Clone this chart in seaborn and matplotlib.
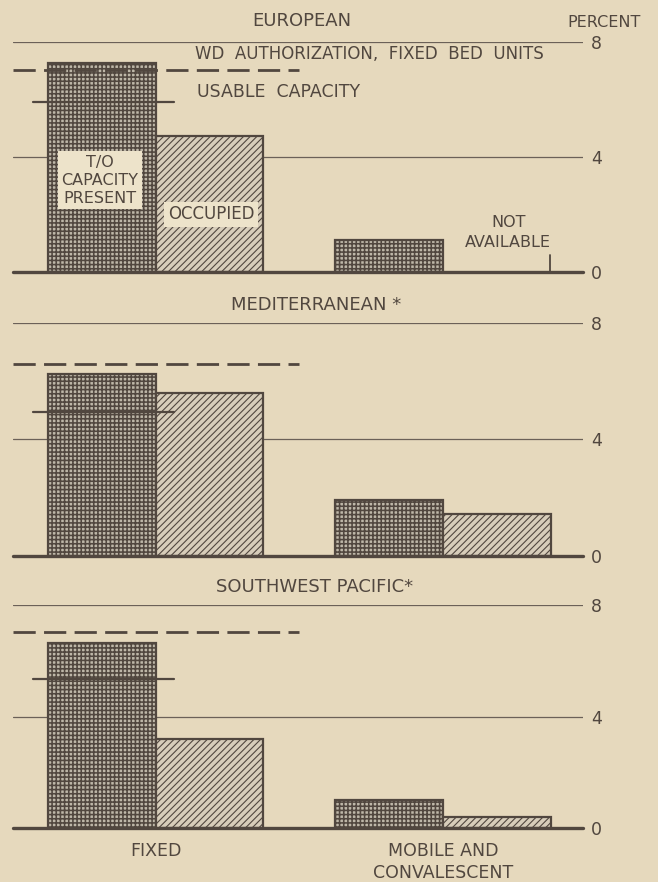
import numpy as np
import pandas as pd
import matplotlib
matplotlib.use("Agg")
import matplotlib.pyplot as plt
import seaborn as sns

# ---------------- data ----------------
panels = ["EUROPEAN", "MEDITERRANEAN *", "SOUTHWEST PACIFIC*"]
unit_types = ["FIXED", "MOBILE AND\nCONVALESCENT"]
measures = ["T/O CAPACITY PRESENT", "OCCUPIED"]

to_capacity_eur = [7.25, 1.12]
occupied_eur = [4.72, np.nan]          # mobile: not available
to_capacity_med = [6.25, 1.9]
occupied_med = [5.6, 1.42]
to_capacity_swp = [6.65, 1.0]
occupied_swp = [3.18, 0.38]

wd_authorization = [7.0, 6.6, 7.05]    # dashed line, fixed bed units
usable_capacity = [5.9, 4.96, 5.36]    # solid short line

yticks = [0, 4, 8]

# ---------------- style ----------------
BG = "#e6d9bd"
BOX = "#ede3ca"
INK = "#51473f"
GRID = "#6b6158"
C_TO = "#c2b8a4"
C_OCC = "#dccfb5"

sns.set_theme(style="white")
plt.rcParams["font.family"] = ["DejaVu Sans"]
plt.rcParams["hatch.linewidth"] = 1.0
plt.rcParams["hatch.color"] = INK
plt.rcParams["text.color"] = INK

fig = plt.figure(figsize=(6.58, 8.82), dpi=100, facecolor=BG)

positions = [
    [0.0191, 0.6919, 0.8669, 0.2608],
    [0.0191, 0.3700, 0.8669, 0.2635],
    [0.0191, 0.0612, 0.8669, 0.2528],
]
series = [
    (to_capacity_eur, occupied_eur),
    (to_capacity_med, occupied_med),
    (to_capacity_swp, occupied_swp),
]
title_pos = [(0.459, 0.976), (0.480, 0.654), (0.478, 0.3345)]
hatch_lw = [1.15, 0.8]

axes = []
for i, (name, (to_vals, occ_vals)) in enumerate(zip(panels, series)):
    ax = fig.add_axes(positions[i])
    ax.set_facecolor(BG)
    df = pd.DataFrame({
        "type": unit_types * 2,
        "measure": [measures[0]] * 2 + [measures[1]] * 2,
        "value": list(to_vals) + list(occ_vals),
    })
    df = df.dropna()
    sns.barplot(data=df, x="type", y="value", hue="measure",
                order=unit_types, hue_order=measures, width=0.75,
                palette=[C_TO, C_OCC], edgecolor=INK, linewidth=1.6,
                legend=False, ax=ax, zorder=2)
    for k, (cont, hatch) in enumerate(zip(ax.containers, ["++++", "/////"])):
        for p in cont:
            p.set_hatch(hatch)
            p.set_edgecolor(INK)
            if hasattr(p, "set_hatch_linewidth"):
                p.set_hatch_linewidth(hatch_lw[k])

    ax.set_xlim(-0.4976, 1.488)
    ax.set_ylim(0, 8)
    for s in ax.spines.values():
        s.set_visible(False)
    ax.axhline(8, color=GRID, lw=0.9, zorder=1)
    ax.axhline(4, color=GRID, lw=0.9, zorder=1)
    ax.axhline(0, color=INK, lw=2.4, zorder=4, clip_on=False)

    # WD authorization (dashed) and usable capacity (solid)
    ax.plot([-0.4976, 0.5], [wd_authorization[i]] * 2, color=INK, lw=2.0,
            ls=(0, (8, 3)), zorder=3, solid_capstyle="butt")
    ax.plot([-0.425, 0.064], [usable_capacity[i]] * 2, color=INK, lw=1.6,
            zorder=3)

    ax.yaxis.tick_right()
    ax.set_yticks(yticks)
    ax.set_yticklabels([str(t) for t in yticks])
    ax.tick_params(axis="y", length=0, pad=6, labelsize=12.5, labelcolor=INK)
    ax.set_xlabel("")
    ax.set_ylabel("")
    if i < 2:
        ax.set_xticks([])
    else:
        ax.set_xticks([0, 1])
        ax.set_xticklabels(unit_types, fontsize=12.5, color=INK,
                           linespacing=1.3)
        ax.tick_params(axis="x", length=0, pad=10)
    fig.text(title_pos[i][0], title_pos[i][1], name, ha="center",
             va="center", fontsize=13, color=INK)
    axes.append(ax)

ax0 = axes[0]
fig.text(0.918, 0.975, "PERCENT", ha="center", va="center", fontsize=11.5,
         color=INK)
ax0.text(0.743, 7.57, "WD  AUTHORIZATION,  FIXED  BED  UNITS", ha="center",
         va="center", fontsize=12, color=INK, zorder=5)
ax0.text(0.43, 6.25, "USABLE  CAPACITY", ha="center", va="center",
         fontsize=12.5, color=INK, zorder=5)
ax0.text(-0.193, 3.19, "T/O\nCAPACITY\nPRESENT", ha="center", va="center",
         fontsize=11.5, color=INK, linespacing=1.25, zorder=5,
         bbox=dict(boxstyle="square,pad=0.22", fc=BOX, ec="none"))
ax0.text(0.193, 2.0, "OCCUPIED", ha="center", va="center", fontsize=12,
         color=INK, zorder=5,
         bbox=dict(boxstyle="square,pad=0.22", fc=BOX, ec="none"))
ax0.text(1.228, 1.36, "NOT\nAVAILABLE", ha="center", va="center",
         fontsize=11.5, color=INK, linespacing=1.4, zorder=5)
ax0.plot([1.373, 1.373], [0, 0.58], color=INK, lw=1.3, zorder=3)

fig.savefig("out.png", dpi=100, facecolor=BG)
